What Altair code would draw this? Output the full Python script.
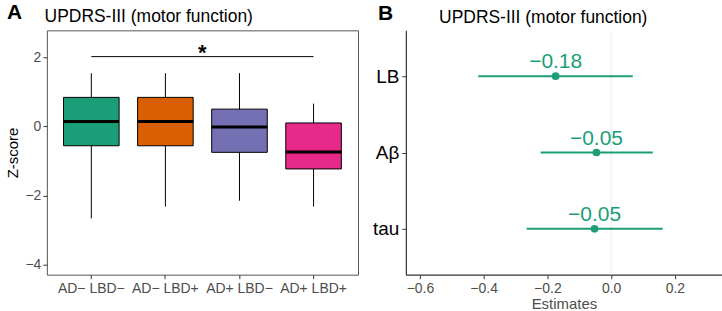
import altair as alt
import pandas as pd

FONT = "Liberation Sans"

# ---- Panel A data (box statistics) ----
groups = ["AD− LBD−", "AD− LBD+", "AD+ LBD−", "AD+ LBD+"]
box_colors = ["#1B9E77", "#D95F02", "#7570B3", "#E7298A"]
whisker_low = [-2.66, -2.32, -2.15, -2.32]
q1 = [-0.56, -0.56, -0.75, -1.23]
median = [0.14, 0.14, -0.02, -0.74]
q3 = [0.84, 0.84, 0.50, 0.10]
whisker_high = [1.54, 1.54, 1.54, 0.66]

sig_from = ["AD− LBD−"]
sig_to = ["AD+ LBD+"]
sig_mid = ["AD− LBD+"]
sig_y = [2.02]
sig_label = ["*"]

# ---- Panel B data ----
predictors = ["LB", "Aβ", "tau"]
estimates = [-0.174, -0.046, -0.052]
ci_low = [-0.417, -0.221, -0.265]
ci_high = [0.068, 0.131, 0.162]
est_labels = ["−0.18", "−0.05", "−0.05"]
zero_line = [0.0]

panel_title = ["UPDRS-III (motor function)"]
GRAY = "#4D4D4D"
GREEN = "#1B9E77"

box_df = pd.DataFrame({"group": groups, "lo": whisker_low, "q1": q1,
                       "med": median, "q3": q3, "hi": whisker_high})
sig_df = pd.DataFrame({"a": sig_from, "b": sig_to, "m": sig_mid, "y": sig_y, "lab": sig_label})
est_df = pd.DataFrame({"pred": predictors, "est": estimates, "lo": ci_low,
                       "hi": ci_high, "lab": est_labels})


def text_at(txt, x, y, size, weight="normal"):
    return alt.Chart(pd.DataFrame({"t": txt})).mark_text(
        font=FONT, fontSize=size, fontWeight=weight, color="black", align="left",
        baseline="alphabetic").encode(text="t:N", x=alt.value(x), y=alt.value(y))


xA_scale = alt.Scale(type="band", domain=groups, paddingInner=0.25, paddingOuter=0.225)
xA_axis = alt.Axis(title=None, labelAngle=0, labelFont=FONT, labelFontSize=14,
                   labelColor=GRAY, tickColor="#333333", tickSize=4, domain=False,
                   labelPadding=3, grid=False)
yA_scale = alt.Scale(domain=[-4.29, 2.78], nice=False, zero=False)
yA_axis = alt.Axis(title="Z-score", values=[-4, -2, 0, 2], grid=False, domain=False,
                   labelFont=FONT, labelFontSize=14, labelColor=GRAY,
                   tickColor="#333333", tickSize=4, labelPadding=2,
                   titleFont=FONT, titleFontSize=15, titleColor="black",
                   titleFontWeight="normal", titlePadding=4)

xA = alt.X("group:N", sort=groups, scale=xA_scale, axis=xA_axis)

whiskers = alt.Chart(box_df).mark_rule(color="black", strokeWidth=1).encode(
    x=xA, y=alt.Y("lo:Q", scale=yA_scale, axis=yA_axis), y2="hi:Q")
boxes = alt.Chart(box_df).mark_bar(stroke="black", strokeWidth=1, opacity=1).encode(
    x=xA, y=alt.Y("q1:Q"), y2="q3:Q",
    color=alt.Color("group:N", scale=alt.Scale(domain=groups, range=box_colors), legend=None))
medians = alt.Chart(box_df).mark_tick(color="black", thickness=3, size=55.7, opacity=1).encode(
    x=xA, y="med:Q")
sig_line = alt.Chart(sig_df).mark_rule(color="black", strokeWidth=1).encode(
    x=alt.X("a:N", sort=groups, scale=xA_scale, bandPosition=0.5),
    x2=alt.X2("b:N", bandPosition=0.5),
    y="y:Q")
sig_star = alt.Chart(sig_df).mark_text(font=FONT, fontSize=22, fontWeight="bold",
                                       color="black", baseline="alphabetic", dx=37, dy=3).encode(
    x=alt.X("m:N", sort=groups, scale=xA_scale, bandPosition=0.5), y="y:Q", text="lab:N")

panelA = alt.layer(whiskers, boxes, medians, sig_line, sig_star,
                   text_at(["A"], -40, -11, 21, "bold"),
                   text_at(panel_title, -2.3, -8.3, 17.5)).properties(
    width=312, height=245,
    view=alt.ViewBackground(stroke="#555555", strokeWidth=1))

# ---- Panel B ----
yB = alt.Y("pred:N", sort=predictors, scale=alt.Scale(type="point", padding=0.6),
           axis=alt.Axis(title=None, labelFont=FONT, labelFontSize=19, labelColor="black",
                         tickColor="#333333", tickSize=4, domainColor="#333333",
                         domainWidth=1.2, labelPadding=3, grid=False))
xB_scale = alt.Scale(domain=[-0.644, 0.348], nice=False, zero=False)
xB_axis = alt.Axis(title="Estimates", values=[-0.6, -0.4, -0.2, 0, 0.2], format=".1f",
                   grid=False, labelFont=FONT, labelFontSize=14, labelColor=GRAY,
                   tickColor="#333333", tickSize=4, domainColor="#333333", domainWidth=1.2,
                   labelPadding=3, titleFont=FONT, titleFontSize=15, titleColor=GRAY,
                   titleFontWeight="normal", titlePadding=1)

zero = alt.Chart(pd.DataFrame({"z": zero_line})).mark_rule(color="#EBEBEB", strokeWidth=1).encode(
    x=alt.X("z:Q", scale=xB_scale, axis=xB_axis))
ci = alt.Chart(est_df).mark_rule(color=GREEN, strokeWidth=2).encode(
    x=alt.X("lo:Q", scale=xB_scale, axis=xB_axis), x2="hi:Q", y=yB)
pts = alt.Chart(est_df).mark_circle(color=GREEN, size=60, opacity=1).encode(
    x=alt.X("est:Q", scale=xB_scale, axis=xB_axis), y=yB)
labs = alt.Chart(est_df).mark_text(font=FONT, fontSize=21, color=GREEN,
                                   baseline="alphabetic", dy=-8).encode(
    x=alt.X("est:Q", scale=xB_scale, axis=xB_axis), y=yB, text="lab:N")

panelB = alt.layer(zero, ci, pts, labs,
                   text_at(["B"], -28, -10, 21, "bold"),
                   text_at(panel_title, 33.3, -7.3, 17.5)).properties(
    width=317, height=245,
    view=alt.ViewBackground(strokeOpacity=0))

chart = alt.hconcat(panelA, panelB, spacing=48, bounds="flush").properties(
    padding={"left": 5, "top": 1, "right": 0, "bottom": 0},
    background="white",
).configure(font=FONT)

chart.save("out.html", embed_options={"renderer": "svg", "actions": False})
